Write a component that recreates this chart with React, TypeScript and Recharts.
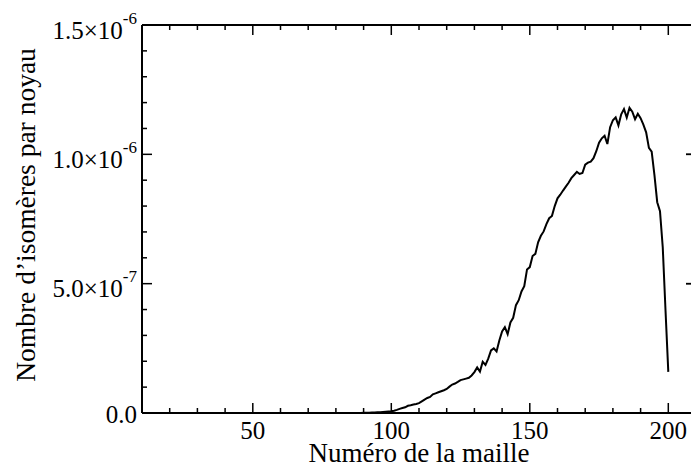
import { LineChart, Line, XAxis, YAxis, Label } from "recharts";

// numéro de maille (abscisse)
const maille = [
  85, 86, 87, 88, 89,
  90, 91, 92, 93, 94, 95, 96, 97, 98, 99,
  100, 101, 102, 103, 104, 105, 106, 107, 108, 109,
  110, 111, 112, 113, 114, 115, 116, 117, 118, 119,
  120, 121, 122, 123, 124, 125, 126, 127, 128, 129,
  130, 131, 132, 133, 134, 135, 136, 137, 138, 139,
  140, 141, 142, 143, 144, 145, 146, 147, 148, 149,
  150, 151, 152, 153, 154, 155, 156, 157, 158, 159,
  160, 161, 162, 163, 164, 165, 166, 167, 168, 169,
  170, 171, 172, 173, 174, 175, 176, 177, 178, 179,
  180, 181, 182, 183, 184, 185, 186, 187, 188, 189,
  190, 191, 192, 193, 194, 195, 196, 197, 198, 199, 200,
];

// nombre d'isomères par noyau, en unités de 1e-7
const isomeres = [
  0, 0, 0, 0, 0,
  0.01, 0.01, 0.01, 0.02, 0.02, 0.03, 0.03, 0.04, 0.05, 0.06,
  0.07, 0.09, 0.12, 0.16, 0.19, 0.22, 0.28, 0.3, 0.33, 0.35,
  0.38, 0.45, 0.52, 0.58, 0.62, 0.72, 0.76, 0.8, 0.84, 0.88,
  0.93, 1.02, 1.1, 1.14, 1.2, 1.27, 1.3, 1.33, 1.36, 1.45,
  1.58, 1.76, 1.6, 1.98, 1.86, 2.1, 2.42, 2.5, 2.38, 2.8,
  3.15, 3.32, 3.05, 3.5, 3.68, 4.17, 4.36, 4.7, 4.9, 5.55,
  5.64, 6.07, 6.15, 6.6, 6.85, 7.02, 7.3, 7.53, 7.62, 8.0,
  8.3, 8.44, 8.6, 8.75, 8.9, 9.08, 9.2, 9.32, 9.24, 9.28,
  9.6, 9.68, 9.72, 9.85, 10.12, 10.45, 10.62, 10.72, 10.4, 11.05,
  11.32, 11.43, 11.12, 11.55, 11.75, 11.42, 11.8, 11.65, 11.36, 11.57,
  11.4, 11.15, 10.85, 10.25, 10.1, 9.2, 8.15, 7.8, 6.4, 3.95, 1.59,
];

const xTicks = [20, 30, 40, 50, 60, 70, 80, 90, 100, 110, 120, 130, 140, 150, 160, 170, 180, 190, 200];
const xMajor = [50, 100, 150, 200];
const yTicks = [1, 2, 3, 4, 5, 6, 7, 8, 9, 10, 11, 12, 13, 14];
const yMajor = [0, 5, 10, 15];
const yMantissa = ["0.0", "5.0×10", "1.0×10", "1.5×10"];
const yExponent = ["", "-7", "-6", "-6"];

const data = maille.map((m, i) => ({ maille: m, val: isomeres[i] }));

const FONT = "'Liberation Serif', 'Times New Roman', serif";
const axisLine = { stroke: "#000", strokeWidth: 2 };

function BottomTick({ x, y, payload }: any) {
  const major = xMajor.includes(payload.value);
  return (
    <g>
      <line x1={x} x2={x} y1={y} y2={y - (major ? 10 : 5)} stroke="#000" strokeWidth={1.5} />
      {major && (
        <text x={x} y={y + 26} textAnchor="middle" fontSize={25} fontFamily={FONT} fill="#000">
          {payload.value}
        </text>
      )}
    </g>
  );
}

function TopTick({ x, y, payload }: any) {
  const major = xMajor.includes(payload.value);
  return <line x1={x} x2={x} y1={y} y2={y + (major ? 10 : 5)} stroke="#000" strokeWidth={1.5} />;
}

function LeftTick({ x, y, payload }: any) {
  const idx = yMajor.indexOf(payload.value);
  const major = idx >= 0;
  return (
    <g>
      <line x1={x} x2={x + (major ? 10 : 5)} y1={y} y2={y} stroke="#000" strokeWidth={1.5} />
      {major && (
        <text
          x={x - 5}
          y={y + (yExponent[idx] ? 13.7 : 9.5)}
          textAnchor="end"
          fontSize={25}
          fontFamily={FONT}
          fill="#000"
        >
          <tspan>{yMantissa[idx]}</tspan>
          {yExponent[idx] && (
            <tspan dy={-15} fontSize={17}>
              {yExponent[idx]}
            </tspan>
          )}
        </text>
      )}
    </g>
  );
}

function RightTick({ x, y, payload }: any) {
  const major = yMajor.includes(payload.value);
  return <line x1={x} x2={x - (major ? 10 : 5)} y1={y} y2={y} stroke="#000" strokeWidth={1.5} />;
}

export default function App() {
  return (
    <div style={{ position: "absolute", left: 0, top: 0, width: 691, height: 468, overflow: "hidden", background: "#fff" }}>
      <LineChart width={720} height={468} data={data} margin={{ top: 0, right: 0, bottom: 0, left: 0 }}>
        <XAxis
          xAxisId="bottom"
          dataKey="maille"
          type="number"
          domain={[10, 210]}
          ticks={[...xTicks, ...xMajor.filter((v) => !xTicks.includes(v))]}
          interval={0}
          height={55}
          tickSize={0}
          tickMargin={0}
          tick={<BottomTick />}
          axisLine={axisLine}
          allowDataOverflow
        >
          <Label
            content={({ viewBox }: any) => (
              <text
                x={viewBox.x + viewBox.width / 2}
                y={viewBox.y + 49}
                textAnchor="middle"
                fontSize={27}
                fontFamily={FONT}
                fill="#000"
              >
                Numéro de la maille
              </text>
            )}
          />
        </XAxis>
        <XAxis
          xAxisId="top"
          orientation="top"
          dataKey="maille"
          type="number"
          domain={[10, 210]}
          ticks={xTicks}
          interval={0}
          height={25}
          tickSize={0}
          tickMargin={0}
          tick={<TopTick />}
          axisLine={axisLine}
          allowDataOverflow
        />
        <YAxis
          yAxisId="left"
          type="number"
          domain={[0, 15]}
          ticks={[...yMajor, ...yTicks.filter((v) => !yMajor.includes(v))]}
          interval={0}
          width={142}
          tickSize={0}
          tickMargin={0}
          tick={<LeftTick />}
          axisLine={axisLine}
          allowDataOverflow
        >
          <Label
            content={() => (
              <text
                x={35}
                y={215}
                transform="rotate(-90, 35, 215)"
                textAnchor="middle"
                fontSize={27.5}
                fontFamily={FONT}
                fill="#000"
              >
                Nombre d’isomères par noyau
              </text>
            )}
          />
        </YAxis>
        <YAxis
          yAxisId="right"
          orientation="right"
          type="number"
          domain={[0, 15]}
          ticks={[...yMajor, ...yTicks]}
          interval={0}
          width={24}
          tickSize={0}
          tickMargin={0}
          tick={<RightTick />}
          axisLine={axisLine}
          allowDataOverflow
        />
        <Line
          xAxisId="bottom"
          yAxisId="left"
          type="linear"
          dataKey="val"
          stroke="#000"
          strokeWidth={2}
          dot={false}
          isAnimationActive={false}
        />
      </LineChart>
    </div>
  );
}
